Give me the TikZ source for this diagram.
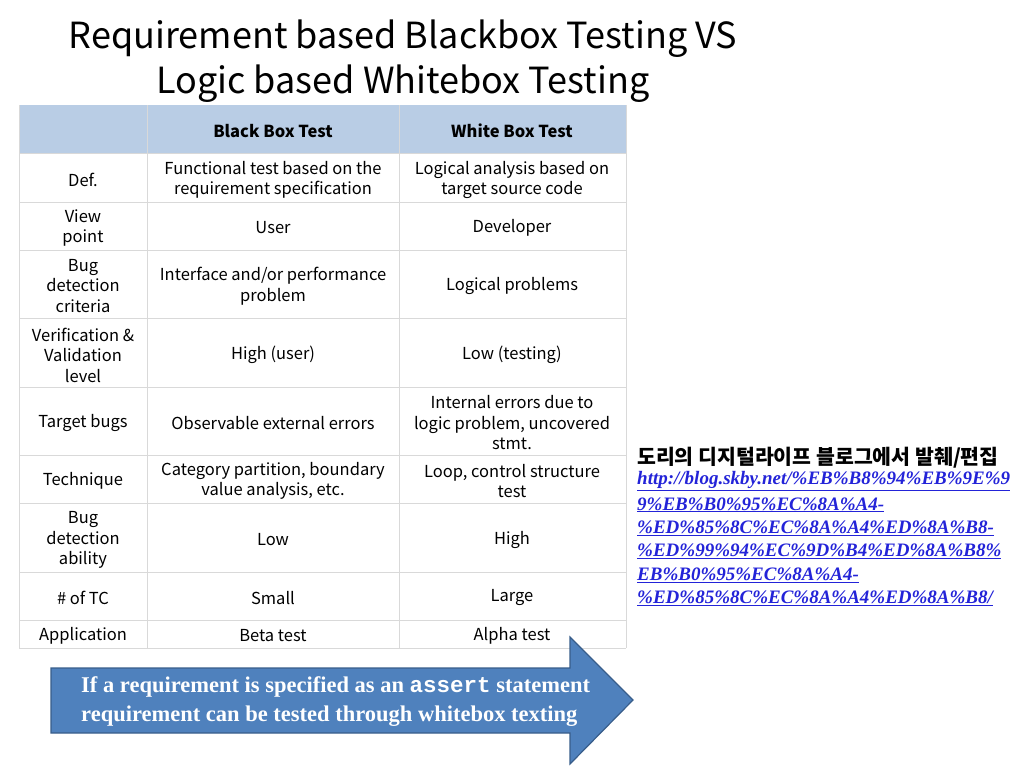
\documentclass[tikz,border=0pt]{standalone}
\usepackage{fontspec}
\setmainfont{Liberation Serif}
\newfontfamily\korfont{Noto Sans CJK KR}
\setmonofont{Liberation Mono}
\definecolor{headblue}{HTML}{B9CDE5}
\definecolor{gridgray}{HTML}{D9D9D9}
\definecolor{arrowblue}{HTML}{4F81BD}
\definecolor{arrowedge}{HTML}{385D8A}
\definecolor{linkblue}{HTML}{2323D8}
\begin{document}
\begin{tikzpicture}[x=1pt, y=-1pt,
        cell/.style={align=center, font=\korfont\fontsize{16.5}{20.5}\selectfont, inner sep=0pt, yshift=-2pt},
        head/.style={cell, font=\korfont\bfseries\fontsize{16.5}{20.5}\selectfont},
        url/.style={anchor=west, inner sep=0pt, text=linkblue, font=\bfseries\itshape\fontsize{19}{21}\selectfont}]
    \useasboundingbox (0,0) rectangle (1024,768);
    % Title
    \node[font=\korfont\fontsize{36}{45}\selectfont, align=center] (title) at (403,61)
        {Requirement based Blackbox Testing VS\\Logic based Whitebox Testing};
    % Table
    \fill[headblue] (19,105) rectangle (626,153);
    \foreach \y in {153,202,250,318,387,455,503,572,620,648}
        \draw[gridgray] (19,\y) -- (626,\y);
    \foreach \x in {19,147,399,626}
        \draw[gridgray] (\x,105) -- (\x,648);
    \node[head] (hbb) at (273,129) {Black Box Test};
    \node[head] (hwb) at (512,129) {White Box Test};
    \node[cell] (r1a) at (83,178) {Def.};
    \node[cell] (r1b) at (273,178) {Functional test based on the\\requirement specification};
    \node[cell] (r1c) at (512,178) {Logical analysis based on\\target source code};
    \node[cell] (r2a) at (83,226) {View\\point};
    \node[cell] (r2b) at (273,226) {User};
    \node[cell] (r2c) at (512,226) {Developer};
    \node[cell] (r3a) at (83,284) {Bug\\detection\\criteria};
    \node[cell] (r3b) at (273,284) {Interface and/or performance\\problem};
    \node[cell] (r3c) at (512,284) {Logical problems};
    \node[cell] (r4a) at (83,353) {Verification \&\\Validation\\level};
    \node[cell] (r4b) at (273,353) {High (user)};
    \node[cell] (r4c) at (512,353) {Low (testing)};
    \node[cell] (r5a) at (83,421) {Target bugs};
    \node[cell] (r5b) at (273,421) {Observable external errors};
    \node[cell] (r5c) at (512,421) {Internal errors due to\\logic problem, uncovered\\stmt.};
    \node[cell] (r6a) at (83,479) {Technique};
    \node[cell] (r6b) at (273,479) {Category partition, boundary\\value analysis, etc.};
    \node[cell] (r6c) at (512,479) {Loop, control structure\\test};
    \node[cell] (r7a) at (83,538) {Bug\\detection\\ability};
    \node[cell] (r7b) at (273,538) {Low};
    \node[cell] (r7c) at (512,538) {High};
    \node[cell] (r8a) at (83,596) {\# of TC};
    \node[cell] (r8b) at (273,596) {Small};
    \node[cell] (r8c) at (512,596) {Large};
    \node[cell] (r9a) at (83,634) {Application};
    \node[cell] (r9b) at (273,634) {Beta test};
    \node[cell] (r9c) at (512,634) {Alpha test};
    % Arrow
    \filldraw[fill=arrowblue, draw=arrowedge, line width=1.2pt]
        (51,668) -- (570,668) -- (570,637) -- (633,700) -- (570,764) -- (570,733) -- (51,733) -- cycle;
    \node[anchor=west, align=left, text=white, inner sep=0pt,
        font=\bfseries\fontsize{22.5}{29}\selectfont] (note) at (81,702)
        {If a requirement is specified as an \texttt{assert} statement\\requirement can be tested through whitebox texting};
    % Source
    \node[anchor=west, inner sep=0pt, font=\korfont\bfseries\itshape\fontsize{20.5}{22}\selectfont] (src) at (637,458)
        {도리의 디지털라이프 블로그에서 발췌/편집};
    \foreach \t [count=\i] in {http://blog.skby.net/\%EB\%B8\%94\%EB\%9E\%9,
        9\%EB\%B0\%95\%EC\%8A\%A4-,
        \%ED\%85\%8C\%EC\%8A\%A4\%ED\%8A\%B8-,
        \%ED\%99\%94\%EC\%9D\%B4\%ED\%8A\%B8\%,
        EB\%B0\%95\%EC\%8A\%A4-,
        \%ED\%85\%8C\%EC\%8A\%A4\%ED\%8A\%B8/}
        \node[url] (u\i) at (637,458+23.4*\i) {\underline{\t}};
\end{tikzpicture}
\end{document}
